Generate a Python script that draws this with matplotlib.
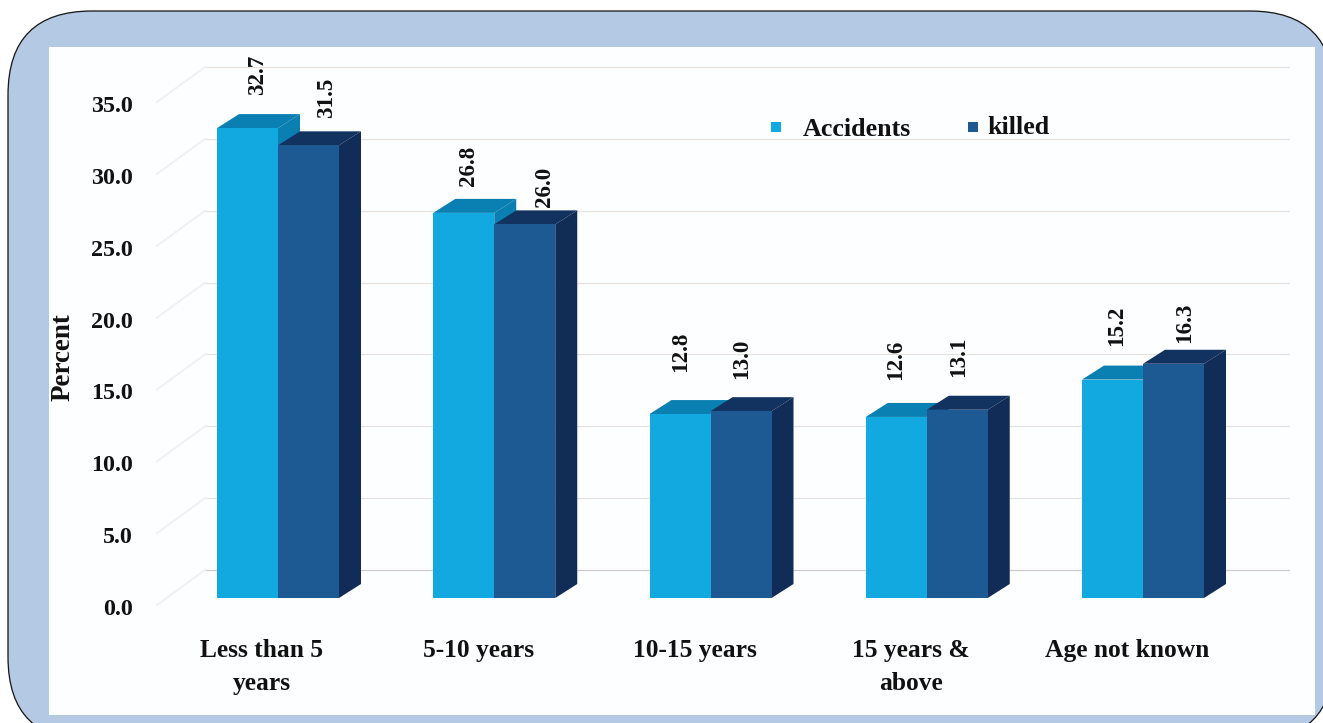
import matplotlib
matplotlib.use('Agg')
import matplotlib.pyplot as plt
from matplotlib.patches import FancyBboxPatch, Polygon, Rectangle
from matplotlib.transforms import ScaledTranslation

plt.rcParams['font.family'] = ['Liberation Serif', 'DejaVu Serif']
plt.rcParams['font.weight'] = 'bold'

categories = ['Less than 5\nyears', '5-10 years', '10-15 years', '15 years &\nabove', 'Age not known']
accidents = [32.7, 26.8, 12.8, 12.6, 15.2]
killed = [31.5, 26.0, 13.0, 13.1, 16.3]
y_ticks = [0, 5, 10, 15, 20, 25, 30, 35]

# hand placed label offsets from the group centre / bar top, in pixels
acc_off = [(-20, 39), (-26, 33), (-30, 48), (-31, 43), (-26, 40)]
kil_off = [(49, 34), (50, 24), (31, 38), (32, 39), (42, 27)]

W, H = 1323, 723
X0, UX = 278, 216.25      # pixel of first group, pixels per group
Y0, UY = 598, 14.37       # pixel of zero, pixels per percent
BAR = 61 / UX
DX, DY = 22 / UX, 14 / UY

light = ('#12a8e0', '#0a7fb2', '#0a7fb2')
dark = ('#1d5a94', '#12325f', '#112c57')

fig = plt.figure(figsize=(W / 72, H / 72), dpi=72, facecolor='white')

# frame, in pixel coordinates
bg = fig.add_axes([0, 0, 1, 1])
bg.set_xlim(0, W)
bg.set_ylim(H, 0)
bg.axis('off')
frame = FancyBboxPatch((8, 11), 1326, 730, boxstyle='round,pad=0,rounding_size=84',
                       fc='#b3c9e4', ec='#1a1a1a', lw=1.3)
bg.add_patch(frame)
bg.add_patch(Rectangle((49, 47), 1266, 668, fc='#fdfeff', ec='none'))

ax_left, ax_right, ax_top = 157, 1290, 66
ax = fig.add_axes([ax_left / W, 1 - Y0 / H, (ax_right - ax_left) / W, (Y0 - ax_top) / H])
ax.patch.set_alpha(0)
ax.set_xlim((ax_left - X0) / UX, (ax_right - X0) / UX)
ax.set_ylim(0, (Y0 - ax_top) / UY)
for s in ax.spines.values():
    s.set_visible(False)

# back wall gridlines and the faint diagonals on the left wall
wall = 28 / UY
wall_x = (205 - X0) / UX
for v in y_ticks:
    ax.plot([wall_x, ax.get_xlim()[1]], [v + wall, v + wall], color='#e6e1de' if v else '#cfcbca', lw=1.2, zorder=1)
    ax.plot([ax.get_xlim()[0], wall_x], [v - 7 / UY, v + wall], color='#f1f1f1', lw=2, zorder=1, clip_on=False)

z = 2
for i in range(len(categories)):
    for vals, col, off in ((accidents, light, -BAR / 2), (killed, dark, BAR / 2)):
        v = vals[i]
        c = i + off
        ax.bar(c, v, BAR, color=col[0], lw=0, zorder=z + 1)
        l, r = c - BAR / 2, c + BAR / 2
        ax.add_patch(Polygon([(l, v), (r, v), (r + DX, v + DY), (l + DX, v + DY)], fc=col[1], ec='none', zorder=z))
        ax.add_patch(Polygon([(r, 0), (r + DX, DY), (r + DX, v + DY), (r, v)], fc=col[2], ec='none', zorder=z))
        z += 2

# value labels
for i in range(len(categories)):
    for vals, offs in ((accidents, acc_off), (killed, kil_off)):
        ax.text(i + offs[i][0] / UX, vals[i] + DY + offs[i][1] / UY, '%.1f' % vals[i], rotation=90,
                ha='center', va='center', fontsize=23, fontweight='bold', color='#111111', zorder=100, clip_on=False)

ax.set_yticks(y_ticks)
ax.set_yticklabels(['%.1f' % v for v in y_ticks], fontsize=24, fontweight='bold', color='#111111')
ax.tick_params(axis='y', length=0, pad=24)
down = ScaledTranslation(0, -9 / 72, fig.dpi_scale_trans)
for lab in ax.get_yticklabels():
    lab.set_transform(lab.get_transform() + down)

ax.set_xticks([i - 16 / UX for i in range(len(categories))])
ax.set_xticklabels(categories, fontsize=25.5, fontweight='bold', color='#111111', linespacing=1.55)
ax.tick_params(axis='x', length=0, pad=41)

ax.set_ylabel('Percent', fontsize=27, fontweight='bold', color='#111111')
ax.yaxis.set_label_coords((76 - ax_left) / (ax_right - ax_left), (Y0 - 357) / (Y0 - ax_top))

# legend
bg.plot([776], [127], 's', ms=10, color=light[0], mew=0)
bg.plot([973], [127], 's', ms=10, color=dark[0], mew=0)
bg.text(803, 129, 'Accidents', fontsize=26, fontweight='bold', color='#111111', va='center')
bg.text(987, 128, 'killed', fontsize=26, fontweight='bold', color='#111111', va='center')

fig.savefig('out.png', dpi=72, facecolor='white')
